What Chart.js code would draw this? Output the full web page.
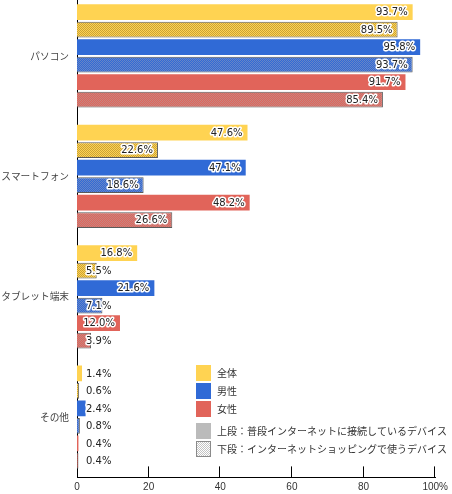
<!DOCTYPE html>
<html><head><meta charset="utf-8">
<script src="https://cdn.jsdelivr.net/npm/chart.js@4/dist/chart.umd.min.js"></script>
<style>html,body{margin:0;padding:0;background:#fff;overflow:hidden}#wrap{position:relative;width:452px;height:494px}</style>
</head><body><div id="wrap"><canvas id="c" width="452" height="494"></canvas></div>
<script>
const categories = ['パソコン', 'スマートフォン', 'タブレット端末', 'その他'];
const allTop = [93.7, 47.6, 16.8, 1.4];
const allBottom = [89.5, 22.6, 5.5, 0.6];
const maleTop = [95.8, 47.1, 21.6, 2.4];
const maleBottom = [93.7, 18.6, 7.1, 0.8];
const femaleTop = [91.7, 48.2, 12.0, 0.4];
const femaleBottom = [85.4, 26.6, 3.9, 0.4];
const xTicks = [0, 20, 40, 60, 80, 100];
const groupNames = ['全体', '男性', '女性'];
const rowNames = ['上段：普段インターネットに接続しているデバイス', '下段：インターネットショッピングで使うデバイス'];

const YELLOW = '#FFD352', BLUE = '#306AD6', RED = '#E1645A';
const YELLOW_DOT = '#C9A238', BLUE_DOT = '#6885C6', RED_DOT = '#C48580';
const canvas = document.getElementById('c');
const mainCtx = canvas.getContext('2d');

function makePattern(base, dark) {
  const c = document.createElement('canvas'); c.width = 2; c.height = 2;
  const g = c.getContext('2d');
  g.fillStyle = base; g.fillRect(0, 0, 2, 2);
  g.fillStyle = dark; g.fillRect(0, 0, 1, 1); g.fillRect(1, 1, 1, 1);
  return mainCtx.createPattern(c, 'repeat');
}
const toPts = (arr) => arr.map((v, i) => ({ x: v, y: i }));

function solid(label, arr, color) {
  return { label, data: toPts(arr), backgroundColor: color, borderWidth: 0 };
}
function hatched(label, arr, color, dot) {
  return { label, data: toPts(arr), backgroundColor: makePattern(color, dot),
    borderColor: '#5a5a5a', borderWidth: 1, borderSkipped: 'start' };
}

const datasets = [
  solid(groupNames[0] + ' 上段', allTop, YELLOW),
  hatched(groupNames[0] + ' 下段', allBottom, YELLOW, YELLOW_DOT),
  solid(groupNames[1] + ' 上段', maleTop, BLUE),
  hatched(groupNames[1] + ' 下段', maleBottom, BLUE, BLUE_DOT),
  solid(groupNames[2] + ' 上段', femaleTop, RED),
  hatched(groupNames[2] + ' 下段', femaleBottom, RED, RED_DOT)
];

const valueLabels = {
  id: 'valueLabels',
  afterDatasetsDraw(chart) {
    const ctx = chart.ctx;
    const axisX = chart.scales.x.getPixelForValue(0);
    ctx.save();
    ctx.font = '10px "DejaVu Sans"';
    ctx.textBaseline = 'middle';
    ctx.textAlign = 'left';
    ctx.lineJoin = 'round';
    chart.data.datasets.forEach((ds, di) => {
      const meta = chart.getDatasetMeta(di);
      meta.data.forEach((bar, i) => {
        const txt = ds.data[i].x.toFixed(1) + '%';
        const w = ctx.measureText(txt).width;
        let x0 = bar.x - 5 - w;
        if (x0 < axisX + 3) x0 = axisX + 9;
        ctx.lineWidth = 3; ctx.strokeStyle = '#fff';
        ctx.strokeText(txt, x0, bar.y + 0.5);
        ctx.fillStyle = '#222';
        ctx.fillText(txt, x0, bar.y + 0.5);
      });
    });
    ctx.restore();
  }
};

const axisTicks = {
  id: 'axisTicks',
  afterDraw(chart) {
    const ctx = chart.ctx, x = chart.scales.x, b = chart.chartArea.bottom;
    ctx.save();
    ctx.strokeStyle = '#000'; ctx.lineWidth = 1;
    xTicks.slice(1).forEach(v => {
      const px = Math.round(x.getPixelForValue(v)) - 0.5;
      ctx.beginPath(); ctx.moveTo(px, b - 11); ctx.lineTo(px, b); ctx.stroke();
    });
    ctx.restore();
  }
};

const legendBox = {
  id: 'legendBox',
  afterDraw(chart) {
    const ctx = chart.ctx;
    const sx = 196, tx = 217, sw = 15, sh = 16;
    const tops = [365, 383, 401, 423, 441];
    const cols = [YELLOW, BLUE, RED];
    ctx.save();
    ctx.font = '10px "Noto Sans CJK JP"';
    ctx.textBaseline = 'middle';
    ctx.fillStyle = '#333';
    groupNames.forEach((n, i) => {
      ctx.fillStyle = cols[i]; ctx.fillRect(sx, tops[i], sw, sh);
      ctx.fillStyle = '#333'; ctx.fillText(n, tx, tops[i] + sh / 2);
    });
    ctx.fillStyle = '#BBBBBB'; ctx.fillRect(sx, tops[3], sw, sh);
    ctx.fillStyle = '#333'; ctx.fillText(rowNames[0], tx, tops[3] + sh / 2);
    ctx.fillStyle = makePattern('#ffffff', '#c4c4c4'); ctx.fillRect(sx, tops[4], sw, sh);
    ctx.strokeStyle = '#8a8a8a'; ctx.lineWidth = 1; ctx.strokeRect(sx + 0.5, tops[4] + 0.5, sw - 1, sh - 1);
    ctx.fillStyle = '#333'; ctx.fillText(rowNames[1], tx, tops[4] + sh / 2);
    ctx.restore();
  }
};

new Chart(canvas, {
  type: 'bar',
  data: { datasets },
  plugins: [valueLabels, axisTicks, legendBox],
  options: {
    responsive: false,
    animation: false,
    indexAxis: 'y',
    categoryPercentage: 0.872,
    barPercentage: 0.9,
    layout: { padding: { top: 0, left: 0, right: 14.5, bottom: 0 } },
    plugins: { legend: { display: false }, tooltip: { enabled: false } },
    scales: {
      x: {
        type: 'linear', min: 0, max: 100, position: 'bottom', offset: false,
        afterBuildTicks: s => { s.ticks = xTicks.map(v => ({ value: v })); },
        afterFit: s => { s.height = 16.6; },
        grid: { display: false, drawTicks: false },
        border: { display: true, color: '#000', width: 1 },
        ticks: { padding: 4, autoSkip: false, maxRotation: 0, color: '#333',
          font: { family: 'Liberation Sans', size: 10 },
          callback: v => v === 100 ? '100%' : String(v) }
      },
      y: {
        type: 'linear', reverse: true, min: -0.465, max: 3.5, offset: false,
        afterBuildTicks: s => { s.ticks = categories.map((c, i) => ({ value: i })); },
        afterFit: s => { s.width = 77; s.paddingTop = 0; s.paddingBottom = 0; },
        grid: { display: false, drawTicks: false, offset: false },
        border: { display: true, color: '#000', width: 1 },
        ticks: { padding: 8, autoSkip: false, color: '#444',
          font: { family: 'Noto Sans CJK JP', size: 9.7 },
          callback: v => categories[v] !== undefined ? categories[v] : '' }
      }
    }
  }
});
</script></body></html>
